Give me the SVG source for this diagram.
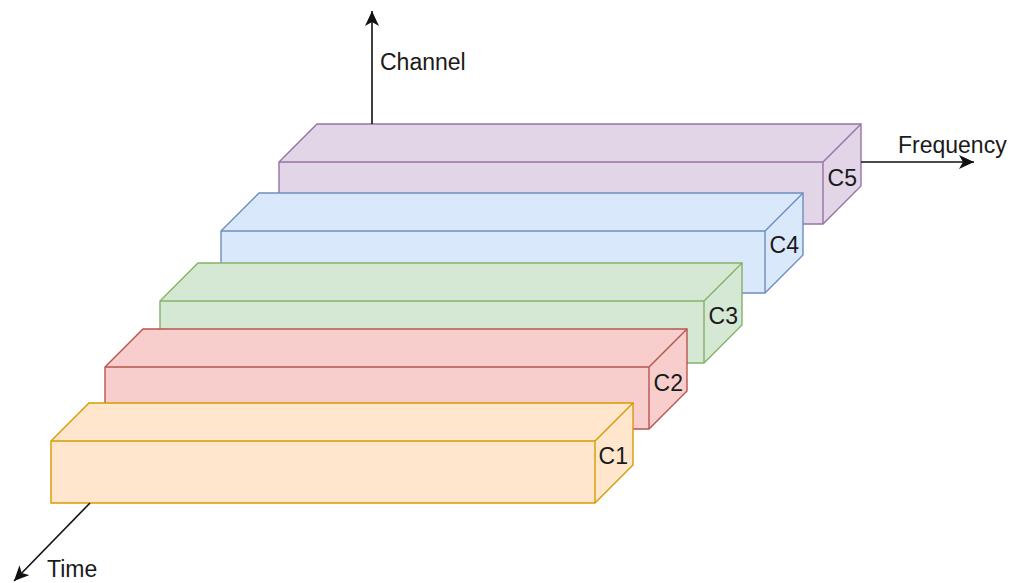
<svg xmlns="http://www.w3.org/2000/svg" width="1013" height="583" viewBox="0 0 1013 583">
  <defs>
    <marker id="arrow" markerUnits="userSpaceOnUse" markerWidth="18" markerHeight="14" refX="15" refY="7" orient="auto">
      <path d="M0,0 L15,7 L0,14 L4,7 Z" fill="#111"/>
    </marker>
  </defs>
  <style>
    .lbl { font-family: "Liberation Sans", Arial, sans-serif; font-size: 23px; fill: #1a1a1a; }
    .cube path { stroke-width: 1.4; stroke-linejoin: miter; }
    .axis { stroke: #111; stroke-width: 1.6; fill: none; marker-end: url(#arrow); }
    #c1 path { fill: #ffe6cc; stroke: #d79b00; }
    #c2 path { fill: #f8cecc; stroke: #b85450; }
    #c3 path { fill: #d5e8d4; stroke: #82b366; }
    #c4 path { fill: #dae8fc; stroke: #6c8ebf; }
    #c5 path { fill: #e1d5e7; stroke: #9673a6; }
    .edge { fill: none !important; }
  </style>

  <!-- Cubes, back to front. Front face 544x62, depth 38 -->
  <g id="c5" class="cube">
    <path d="M279,162 L317,124 L861,124 L861,186 L823,224 L279,224 Z"/>
    <path class="edge" d="M279,162 L823,162 L861,124 M823,162 L823,224"/>
    <text class="lbl" x="857" y="186" text-anchor="end">C5</text>
  </g>
  <g id="c4" class="cube">
    <path d="M221,231 L259,193 L803,193 L803,255 L765,293 L221,293 Z"/>
    <path class="edge" d="M221,231 L765,231 L803,193 M765,231 L765,293"/>
    <text class="lbl" x="799" y="253" text-anchor="end">C4</text>
  </g>
  <g id="c3" class="cube">
    <path d="M160,301 L198,263 L742,263 L742,325 L704,363 L160,363 Z"/>
    <path class="edge" d="M160,301 L704,301 L742,263 M704,301 L704,363"/>
    <text class="lbl" x="738" y="324" text-anchor="end">C3</text>
  </g>
  <g id="c2" class="cube">
    <path d="M105,367 L143,329 L687,329 L687,391 L649,429 L105,429 Z"/>
    <path class="edge" d="M105,367 L649,367 L687,329 M649,367 L649,429"/>
    <text class="lbl" x="683" y="391" text-anchor="end">C2</text>
  </g>
  <g id="c1" class="cube">
    <path d="M51,441 L89,403 L633,403 L633,465 L595,503 L51,503 Z"/>
    <path class="edge" d="M51,441 L595,441 L633,403 M595,441 L595,503"/>
    <text class="lbl" x="628" y="464" text-anchor="end">C1</text>
  </g>

  <!-- Axes -->
  <g id="connectors">
    <line class="axis" x1="372" y1="124" x2="372" y2="11"/>
    <line class="axis" x1="861" y1="162" x2="974" y2="162"/>
    <line class="axis" x1="90" y1="503" x2="14" y2="581"/>
  </g>
  <g id="axis-labels">
    <text class="lbl" x="380" y="70">Channel</text>
    <text class="lbl" x="898" y="153">Frequency</text>
    <text class="lbl" x="47" y="577">Time</text>
  </g>
</svg>
